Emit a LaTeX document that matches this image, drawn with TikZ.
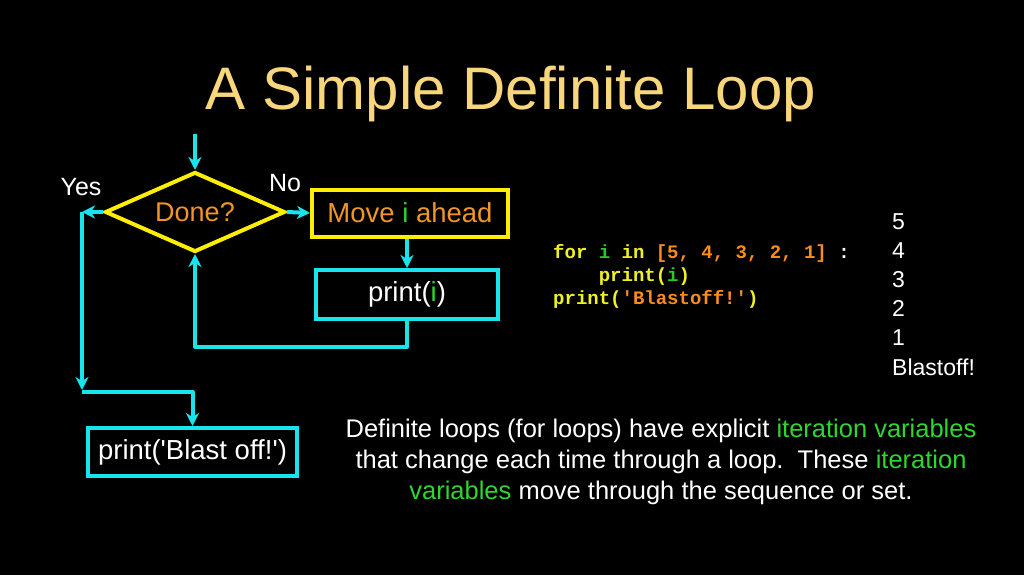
\documentclass[tikz,border=0pt]{standalone}
\usepackage{fontspec}
\setmainfont{Liberation Sans}
\newfontfamily\codefont{Liberation Mono}
\usetikzlibrary{shapes.geometric,arrows.meta,calc}
\definecolor{cyanline}{RGB}{24,228,236}
\definecolor{yelline}{RGB}{255,238,0}
\definecolor{titlecol}{RGB}{248,214,124}
\definecolor{orangetxt}{RGB}{240,150,40}
\definecolor{greentxt}{RGB}{45,215,45}
\definecolor{codeyel}{RGB}{240,240,40}
\definecolor{codeor}{RGB}{250,140,30}
\definecolor{codegr}{RGB}{40,200,40}
\tikzset{
  flow/.style={draw=cyanline,line width=4pt},
  arr/.style={flow,-{Stealth[length=13pt,width=13pt,inset=4pt]}},
  cbox/.style={draw=cyanline,line width=4pt,rectangle,inner sep=0pt,text=white,font=\fontsize{27.5}{30}\selectfont},
  ybox/.style={draw=yelline,line width=4pt,rectangle,inner sep=0pt,text=orangetxt,font=\fontsize{27.5}{30}\selectfont},
  lbl/.style={text=white,font=\fontsize{25}{28}\selectfont,inner sep=0pt},
}
\begin{document}
\begin{tikzpicture}[x=1pt,y=-1pt]
\fill[black] (0,0) rectangle (1024,575);
\useasboundingbox (0,0) rectangle (1024,575);
% title
\node[text=titlecol,font=\fontsize{60}{66}\selectfont,inner sep=0pt] (title) at (511,94) {A Simple Definite Loop};
% flowchart nodes
\node[draw=yelline,line width=4pt,diamond,aspect=2.25,minimum width=180pt,minimum height=80pt,inner sep=0pt,text=orangetxt,font=\fontsize{27}{30}\selectfont] (done) at (195,212) {\raisebox{-2pt}{Done?}};
\node[ybox,minimum width=196pt,minimum height=47pt] (move) at (410,213) {\raisebox{-2pt}{Move \textcolor{greentxt}{i} ahead}};
\node[cbox,minimum width=182pt,minimum height=49pt] (printi) at (407,294.5) {\raisebox{-2pt}{print(\textcolor{greentxt}{i})}};
\node[cbox,minimum width=209pt,minimum height=48pt] (blast) at (192.5,452) {\raisebox{-2pt}{print(\textquotesingle Blast off!\textquotesingle)}};
\node[lbl] (yes) at (81,187) {Yes};
\node[lbl] (no) at (285,183) {No};
% connector coordinates
\coordinate (entry) at (195,134);
\coordinate (yesc) at (82,212);
\coordinate (yesd) at (82,390);
\coordinate (yese) at (82,392);
\coordinate (loopc) at (407,347);
% connectors
\draw[arr] (entry) -- (done.north);
\draw[arr] (done.west) -- (yesc);
\draw[arr] (yesc) -- (yesd);
\draw[arr,line join=round] (yese) -| (blast.north);
\draw[arr] (done.east) -- (move.west);
\draw[arr] (move.south -| printi.north) -- (printi.north);
\draw[arr,line join=round] (printi.south) -- (loopc) -| (done.south);
% code
\node[anchor=west,inner sep=0pt,font=\codefont\bfseries\fontsize{19}{23}\selectfont,align=left] (code) at (553,276) {%
\textcolor{codeyel}{for} \textcolor{codegr}{i} \textcolor{codeyel}{in} \textcolor{codeor}{[5, 4, 3, 2, 1]} \textcolor{white}{:}\\
\textcolor{codeyel}{\ \ \ \ print(}\textcolor{codegr}{i}\textcolor{codeyel}{)}\\
\textcolor{codeyel}{print(}\textcolor{codeor}{\textquotesingle Blastoff!\textquotesingle}\textcolor{codeyel}{)}};
% output
\node[anchor=north west,inner sep=0pt,text=white,font=\fontsize{23}{29.2}\selectfont,align=left] (out) at (892,213) {5\\4\\3\\2\\1\\Blastoff!};
% paragraph
\node[inner sep=0pt,text=white,font=\fontsize{25.5}{31}\selectfont,align=center] (para) at (661,462) {Definite loops (for loops) have explicit \textcolor{greentxt}{iteration variables}\\
that change each time through a loop.\ \ These \textcolor{greentxt}{iteration}\\
\textcolor{greentxt}{variables} move through the sequence or set.};
\end{tikzpicture}
\end{document}
